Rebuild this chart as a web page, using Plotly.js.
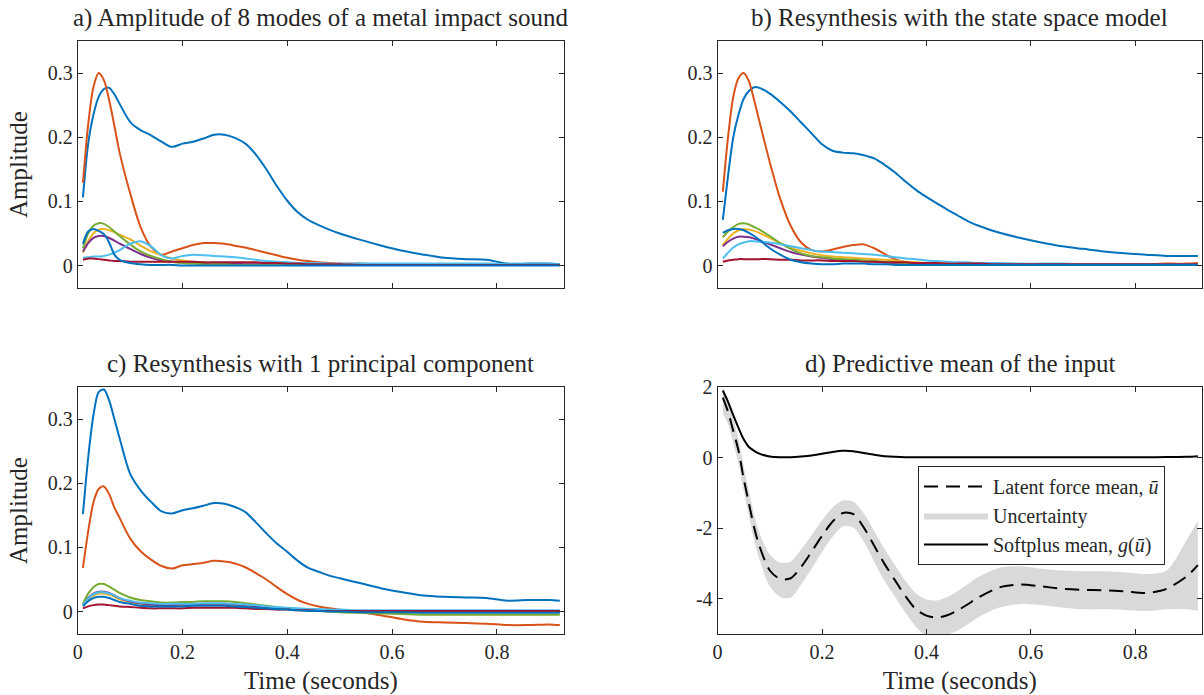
<!DOCTYPE html>
<html>
<head>
<meta charset="utf-8">
<script src="https://cdn.plot.ly/plotly-3.0.1.min.js"></script>
<style>html,body{margin:0;padding:0;background:#fff;}#chart{width:1204px;height:695px;}</style>
</head>
<body>
<div id="chart"></div>
<script>
// ---------- data ----------
const T = [0.01,0.02,0.03,0.04,0.05,0.06,0.07,0.08,0.10,0.12,0.14,0.16,0.18,0.20,0.22,0.24,0.26,0.28,0.30,0.32,0.34,0.36,0.38,0.40,0.42,0.44,0.46,0.48,0.50,0.54,0.58,0.62,0.66,0.70,0.74,0.78,0.82,0.86,0.90,0.92];

// a) measured amplitudes of 8 modes
const aMode1 = [0.106,0.19,0.235,0.263,0.275,0.277,0.267,0.252,0.224,0.211,0.203,0.193,0.185,0.19,0.193,0.198,0.204,0.204,0.199,0.19,0.173,0.15,0.124,0.101,0.083,0.071,0.063,0.056,0.05,0.04,0.031,0.023,0.017,0.012,0.01,0.009,0.003,0.003,0.003,0.002];
const aMode2 = [0.129,0.22,0.278,0.3,0.289,0.258,0.218,0.176,0.113,0.06,0.029,0.017,0.022,0.027,0.032,0.035,0.035,0.034,0.031,0.028,0.024,0.02,0.016,0.012,0.009,0.007,0.005,0.004,0.003,0.003,0.002,0.002,0.002,0.002,0.001,0.001,0.001,0.001,0.001,0.001];
const aMode3 = [0.02,0.038,0.05,0.056,0.057,0.055,0.052,0.048,0.041,0.031,0.022,0.016,0.011,0.008,0.006,0.005,0.004,0.003,0.003,0.002,0.002,0.002,0.001,0.001,0.001,0.001,0.001,0.001,0.001,0.001,0.001,0.001,0.001,0.001,0.001,0.001,0.001,0.001,0.001,0.001];
const aMode4 = [0.022,0.035,0.043,0.046,0.046,0.043,0.039,0.034,0.026,0.018,0.012,0.008,0.006,0.005,0.004,0.004,0.003,0.003,0.003,0.002,0.002,0.002,0.002,0.001,0.001,0.001,0.001,0.001,0.001,0.001,0.001,0.001,0.001,0.001,0.001,0.001,0.001,0.001,0.001,0.001];
const aMode5 = [0.027,0.05,0.062,0.066,0.065,0.06,0.053,0.046,0.033,0.022,0.015,0.01,0.006,0.004,0.003,0.002,0.002,0.002,0.001,0.001,0.001,0.001,0.001,0.001,0.001,0.001,0.001,0.001,0.001,0.001,0.001,0.001,0.001,0.001,0.001,0.001,0.001,0.001,0.001,0.001];
const aMode6 = [0.012,0.013,0.014,0.014,0.015,0.017,0.02,0.024,0.034,0.038,0.03,0.016,0.011,0.015,0.017,0.016,0.015,0.014,0.013,0.011,0.009,0.007,0.006,0.005,0.004,0.004,0.004,0.003,0.003,0.003,0.003,0.003,0.003,0.003,0.003,0.003,0.002,0.002,0.002,0.002];
const aMode7 = [0.009,0.011,0.011,0.01,0.009,0.008,0.007,0.007,0.006,0.006,0.006,0.006,0.006,0.006,0.006,0.005,0.005,0.005,0.005,0.005,0.005,0.004,0.004,0.003,0.003,0.002,0.002,0.002,0.002,0.001,0.001,0.001,0.001,0.001,0.001,0.001,0.001,0.001,0.001,0.001];
const aMode8 = [0.034,0.053,0.057,0.054,0.049,0.036,0.017,0.009,0.004,0.002,0.001,0.001,0.001,0,0,0,0,0,0,0,0,0,0,0,0,0,0,0,0,0,0,0,0,0,0,0,0,0,0,0];

// b) resynthesis with the state space model
const bMode1 = [0.071,0.14,0.2,0.235,0.26,0.272,0.278,0.277,0.268,0.255,0.24,0.223,0.206,0.189,0.179,0.176,0.175,0.172,0.167,0.157,0.145,0.131,0.118,0.107,0.097,0.087,0.078,0.069,0.062,0.051,0.043,0.036,0.03,0.026,0.022,0.019,0.017,0.015,0.015,0.015];
const bMode2 = [0.115,0.2,0.263,0.292,0.3,0.287,0.258,0.225,0.161,0.104,0.062,0.036,0.024,0.022,0.025,0.029,0.032,0.033,0.027,0.018,0.01,0.005,0.003,0.002,0.002,0.002,0.002,0.002,0.002,0.002,0.002,0.002,0.002,0.002,0.002,0.002,0.002,0.003,0.003,0.004];
const bMode3 = [0.032,0.042,0.05,0.055,0.057,0.056,0.054,0.051,0.043,0.035,0.028,0.023,0.019,0.016,0.014,0.013,0.012,0.011,0.01,0.009,0.008,0.006,0.005,0.004,0.003,0.003,0.002,0.002,0.002,0.002,0.002,0.002,0.002,0.002,0.002,0.002,0.002,0.002,0.002,0.002];
const bMode4 = [0.03,0.037,0.042,0.045,0.045,0.044,0.042,0.039,0.033,0.027,0.021,0.017,0.014,0.012,0.01,0.009,0.008,0.007,0.006,0.005,0.004,0.004,0.003,0.002,0.002,0.002,0.002,0.002,0.002,0.002,0.002,0.002,0.002,0.002,0.002,0.002,0.002,0.002,0.002,0.002];
const bMode5 = [0.044,0.053,0.06,0.065,0.066,0.064,0.06,0.056,0.046,0.035,0.026,0.019,0.015,0.013,0.011,0.01,0.009,0.008,0.007,0.006,0.005,0.004,0.003,0.002,0.002,0.002,0.002,0.002,0.002,0.002,0.002,0.002,0.002,0.002,0.002,0.002,0.002,0.002,0.002,0.002];
const bMode6 = [0.011,0.02,0.028,0.033,0.036,0.038,0.038,0.037,0.036,0.033,0.03,0.027,0.024,0.022,0.021,0.02,0.019,0.018,0.017,0.015,0.013,0.011,0.01,0.008,0.007,0.006,0.005,0.005,0.004,0.004,0.003,0.003,0.003,0.002,0.002,0.002,0.002,0.002,0.002,0.002];
const bMode7 = [0.006,0.008,0.009,0.01,0.01,0.01,0.01,0.01,0.01,0.009,0.009,0.008,0.008,0.008,0.007,0.007,0.007,0.006,0.006,0.005,0.005,0.005,0.004,0.004,0.004,0.003,0.003,0.003,0.003,0.002,0.002,0.002,0.002,0.002,0.002,0.002,0.002,0.002,0.002,0.002];
const bMode8 = [0.051,0.055,0.057,0.057,0.055,0.051,0.046,0.04,0.027,0.017,0.009,0.005,0.003,0.002,0.002,0.003,0.003,0.003,0.002,0.002,0.001,0.001,0.001,0.001,0.001,0.001,0.001,0.001,0.001,0.001,0.001,0.001,0.001,0.001,0.001,0.001,0.001,0.001,0.001,0.001];

// c) resynthesis with 1 principal component
const cMode1 = [0.152,0.24,0.306,0.342,0.346,0.329,0.3,0.27,0.215,0.189,0.171,0.156,0.153,0.158,0.161,0.165,0.169,0.168,0.163,0.155,0.139,0.122,0.106,0.093,0.079,0.068,0.062,0.056,0.052,0.044,0.036,0.03,0.025,0.023,0.022,0.021,0.017,0.018,0.018,0.017];
const cMode2 = [0.068,0.125,0.17,0.191,0.195,0.183,0.162,0.146,0.114,0.094,0.081,0.071,0.067,0.072,0.074,0.076,0.079,0.078,0.075,0.069,0.06,0.05,0.038,0.027,0.018,0.012,0.008,0.005,0.003,-0.001,-0.006,-0.012,-0.016,-0.017,-0.018,-0.019,-0.021,-0.021,-0.02,-0.021];
const cMode3 = [0.01,0.019,0.025,0.028,0.028,0.026,0.023,0.019,0.015,0.012,0.01,0.009,0.009,0.01,0.01,0.011,0.011,0.011,0.01,0.009,0.008,0.006,0.005,0.004,0.003,0.002,0.002,0.001,0.001,0,0,-0.001,-0.001,-0.001,-0.001,-0.001,-0.001,-0.001,-0.001,-0.001];
const cMode4 = [0.011,0.021,0.028,0.031,0.031,0.029,0.025,0.021,0.016,0.013,0.011,0.01,0.01,0.011,0.011,0.012,0.012,0.012,0.011,0.01,0.008,0.007,0.005,0.004,0.003,0.002,0.002,0.002,0.001,0.001,0.001,0.001,0.001,0.001,0.001,0.001,0.001,0.001,0.001,0.001];
const cMode5 = [0.012,0.028,0.038,0.043,0.043,0.039,0.034,0.029,0.022,0.018,0.016,0.014,0.014,0.015,0.015,0.016,0.016,0.016,0.015,0.013,0.011,0.009,0.007,0.005,0.003,0.002,0.001,0,-0.001,-0.002,-0.003,-0.004,-0.005,-0.005,-0.005,-0.005,-0.005,-0.005,-0.005,-0.005];
const cMode6 = [0.01,0.02,0.027,0.03,0.03,0.028,0.025,0.021,0.017,0.014,0.013,0.012,0.012,0.012,0.012,0.013,0.013,0.013,0.012,0.011,0.01,0.008,0.007,0.006,0.005,0.004,0.004,0.003,0.003,0.002,0.002,0.002,0.002,0.002,0.002,0.002,0.002,0.002,0.002,0.002];
const cMode7 = [0.005,0.008,0.01,0.011,0.011,0.01,0.009,0.008,0.007,0.006,0.005,0.005,0.005,0.005,0.006,0.006,0.006,0.006,0.006,0.005,0.004,0.004,0.003,0.003,0.002,0.002,0.001,0.001,0.001,0.001,0.001,0.001,0.001,0.001,0.001,0.001,0.001,0.001,0.001,0.001];
const cMode8 = [0.008,0.016,0.021,0.023,0.023,0.021,0.018,0.015,0.012,0.009,0.008,0.008,0.008,0.008,0.009,0.009,0.009,0.009,0.008,0.007,0.006,0.005,0.004,0.003,0.002,0.001,0.001,0,0,-0.001,-0.001,-0.001,-0.002,-0.002,-0.002,-0.002,-0.002,-0.002,-0.002,-0.002];

// d) predictive mean of the input
const latentMean = [1.7,1.3,0.75,0.2,-0.6,-1.3,-1.98,-2.5,-3.2,-3.44,-3.42,-3.1,-2.67,-2.22,-1.82,-1.57,-1.6,-1.98,-2.5,-3.02,-3.48,-3.93,-4.3,-4.48,-4.53,-4.47,-4.33,-4.15,-3.96,-3.68,-3.6,-3.65,-3.72,-3.75,-3.76,-3.79,-3.84,-3.72,-3.35,-3.05];
const upperBound = [2.0,1.62,1.1,0.55,-0.25,-0.95,-1.62,-2.12,-2.75,-2.98,-2.95,-2.6,-2.2,-1.78,-1.42,-1.22,-1.25,-1.58,-2.08,-2.6,-3.05,-3.5,-3.85,-4.02,-4.05,-3.95,-3.78,-3.58,-3.38,-3.12,-3.08,-3.15,-3.2,-3.22,-3.22,-3.25,-3.3,-3.2,-2.3,-1.8];
const lowerBound = [1.25,0.95,0.4,-0.15,-0.95,-1.65,-2.35,-2.88,-3.65,-3.95,-3.97,-3.6,-3.15,-2.68,-2.25,-1.95,-1.98,-2.38,-2.95,-3.5,-3.95,-4.4,-4.8,-5.05,-5.1,-5.02,-4.9,-4.72,-4.52,-4.25,-4.15,-4.18,-4.25,-4.3,-4.3,-4.32,-4.35,-4.3,-4.3,-4.35];
const softplusMean = [1.9,1.58,1.2,0.84,0.52,0.3,0.19,0.11,0.03,0.01,0.01,0.03,0.06,0.11,0.16,0.19,0.18,0.13,0.08,0.04,0.02,0.01,0.01,0.01,0.01,0.01,0.01,0.01,0.01,0.01,0.01,0.01,0.01,0.01,0.01,0.01,0.01,0.015,0.02,0.04];

// text
const panelTitles = ['a) Amplitude of 8 modes of a metal impact sound','b) Resynthesis with the state space model','c) Resynthesis with 1 principal component','d) Predictive mean of the input'];
const xTickVals = [0,0.2,0.4,0.6,0.8];
const xTickText = ['0','0.2','0.4','0.6','0.8'];
const ampTickVals = [0,0.1,0.2,0.3];
const ampTickText = ['0','0.1','0.2','0.3'];
const dTickVals = [-4,-2,0,2];
const dTickText = ['-4','-2','0','2'];
const legendNames = ['Latent force mean, <i>ū</i>','Uncertainty','Softplus mean, <i>g</i>(<i>ū</i>)'];

// ---------- build ----------
const modeColors = ['#0072BD','#D95319','#EDB120','#7E2F8E','#77AC30','#4DBEEE','#A2142F','#0072BD'];
const FONT = 'Liberation Serif, Times New Roman, serif';
const TXT = '#262626';
const traces = [];
function addModes(series, xa, ya){
  series.forEach((s,i)=>{
    traces.push({x:T, y:s, xaxis:xa, yaxis:ya, type:'scatter', mode:'lines',
      line:{color:modeColors[i], width:2, shape:'spline', smoothing:0.8}, showlegend:false, hoverinfo:'skip'});
  });
}
addModes([aMode1,aMode2,aMode3,aMode4,aMode5,aMode6,aMode7,aMode8],'x','y');
addModes([bMode1,bMode2,bMode3,bMode4,bMode5,bMode6,bMode7,bMode8],'x2','y2');
addModes([cMode1,cMode2,cMode3,cMode4,cMode5,cMode6,cMode7,cMode8],'x3','y3');

traces.push({x:T, y:lowerBound, xaxis:'x4', yaxis:'y4', type:'scatter', mode:'lines',
  line:{width:0, shape:'spline', smoothing:0.8}, showlegend:false, hoverinfo:'skip'});
traces.push({x:T, y:upperBound, xaxis:'x4', yaxis:'y4', type:'scatter', mode:'lines', name:legendNames[1],
  fill:'tonexty', fillcolor:'#d9d9d9', line:{width:0, shape:'spline', smoothing:0.8}, legendrank:2});
traces.push({x:T, y:latentMean, xaxis:'x4', yaxis:'y4', type:'scatter', mode:'lines', name:legendNames[0],
  line:{color:'#000', width:2, dash:'14px,8px', shape:'spline', smoothing:0.8}, legendrank:1});
traces.push({x:T, y:softplusMean, xaxis:'x4', yaxis:'y4', type:'scatter', mode:'lines', name:legendNames[2],
  line:{color:'#000', width:2, shape:'spline', smoothing:0.8}, legendrank:3});

const W=1204, H=695;
function dx(p){return p/W;}
function dy(p){return 1-p/H;}
const colA=[dx(77.7),dx(564)], colB=[dx(717.6),dx(1202)];
const rowTop=[dy(288),dy(41)], rowBot=[dy(634),dy(387)];
const tickFont={family:FONT, size:20, color:TXT};
const titleSize = 25;
function xAxis(dom, anchor, labels){
  return {domain:dom, anchor:anchor, range:[0,0.928], tickmode:'array', tickvals:xTickVals, ticktext:xTickText,
    showticklabels:labels, ticks:'inside', ticklen:5, tickwidth:1, tickcolor:TXT, showline:true, linecolor:TXT, linewidth:1,
    mirror:'ticks', showgrid:false, zeroline:false, tickfont:tickFont,
    title: labels ? {text:'Time (seconds)', font:{family:FONT, size:titleSize, color:TXT}, standoff:10} : {text:''}};
}
function yAxis(dom, anchor, range, vals, text, title){
  return {domain:dom, anchor:anchor, range:range, tickmode:'array', tickvals:vals, ticktext:text,
    ticks:'inside', ticklen:5, tickwidth:1, tickcolor:TXT, showline:true, linecolor:TXT, linewidth:1,
    mirror:'ticks', showgrid:false, zeroline:false, tickfont:tickFont,
    title: title ? {text:title, font:{family:FONT, size:titleSize, color:TXT}, standoff:12} : {text:''}};
}
const ampRange=[-0.035,0.35];
const layout = {
  width:W, height:H, margin:{l:0,r:0,t:0,b:0}, paper_bgcolor:'#fff', plot_bgcolor:'#fff',
  font:{family:FONT, color:TXT},
  xaxis: xAxis(colA,'y',false), yaxis: yAxis(rowTop,'x',ampRange,ampTickVals,ampTickText,'Amplitude'),
  xaxis2: xAxis(colB,'y2',false), yaxis2: yAxis(rowTop,'x2',ampRange,ampTickVals,ampTickText,''),
  xaxis3: xAxis(colA,'y3',true), yaxis3: yAxis(rowBot,'x3',ampRange,ampTickVals,ampTickText,'Amplitude'),
  xaxis4: xAxis(colB,'y4',true), yaxis4: yAxis(rowBot,'x4',[-5,2],dTickVals,dTickText,''),
  showlegend:true,
  legend:{x:dx(918), y:dy(466), xanchor:'left', yanchor:'top', bgcolor:'#fff', bordercolor:TXT, borderwidth:1,
    font:{family:FONT, size:20, color:TXT}, itemwidth:64, traceorder:'normal', tracegroupgap:0},
  annotations: [
    {text:panelTitles[0], x:(colA[0]+colA[1])/2, y:dy(34)},
    {text:panelTitles[1], x:(colB[0]+colB[1])/2, y:dy(34)},
    {text:panelTitles[2], x:(colA[0]+colA[1])/2, y:dy(380)},
    {text:panelTitles[3], x:(colB[0]+colB[1])/2, y:dy(380)}
  ].map(a=>Object.assign(a,{xref:'paper', yref:'paper', xanchor:'center', yanchor:'bottom', showarrow:false,
    font:{family:FONT, size:titleSize, color:TXT}}))
};
Plotly.newPlot('chart', traces, layout, {staticPlot:true, displayModeBar:false});
</script>
</body>
</html>
